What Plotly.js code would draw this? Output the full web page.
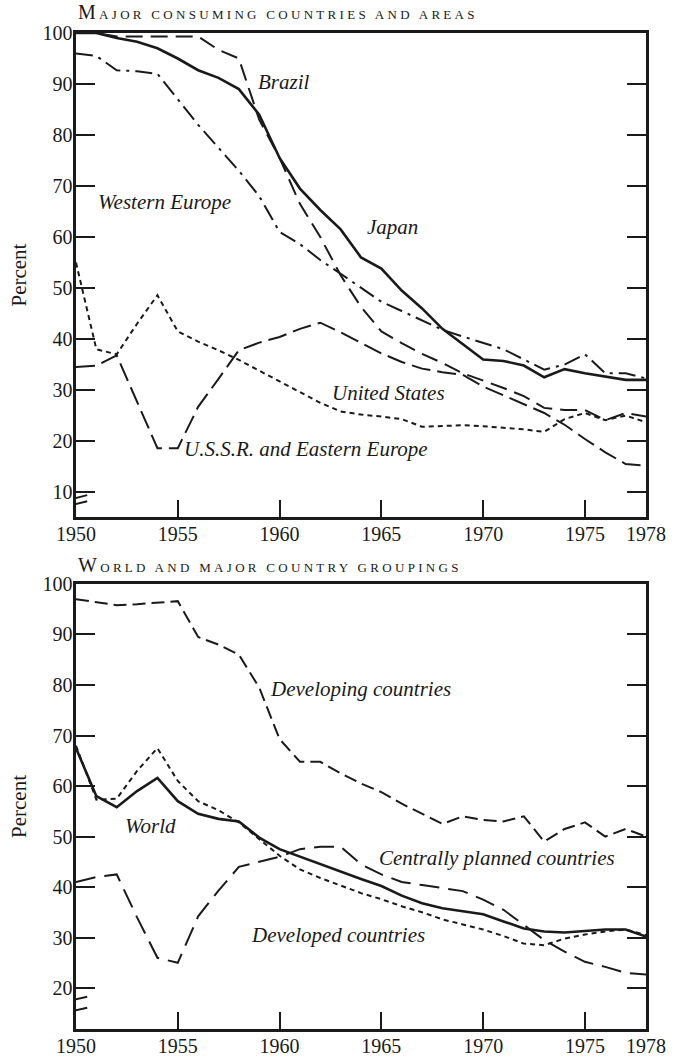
<!DOCTYPE html>
<html>
<head>
<meta charset="utf-8">
<script src="https://cdn.plot.ly/plotly-3.0.1.min.js"></script>
<style>
  html, body { margin: 0; padding: 0; background: #fff; }
  #chart { width: 676px; height: 1059px; }
  .annotation[data-index="0"] text, .annotation[data-index="1"] text { letter-spacing: 3.3px; }
</style>
</head>
<body>
<div id="chart"></div>
<script>
// ---- Data (percent) ----
const years = [1950,1951,1952,1953,1954,1955,1956,1957,1958,1959,1960,1961,1962,1963,1964,1965,1966,1967,1968,1969,1970,1971,1972,1973,1974,1975,1976,1977,1978];

// Major consuming countries and areas
const japan         = [100,100,99,98.3,97,95,92.7,91.2,89,84,75.5,69.5,65.3,61.5,56,53.8,49.5,46,42,39,36,35.7,34.8,32.5,34.1,33.3,32.7,32,32];
const brazil        = [100,100,99.3,99.3,99.3,99.3,99.3,96.7,95,83,75.5,66.5,60,52.5,46.3,41.5,39.2,37.1,35.3,33.3,31.9,30.4,28.8,26.5,26.1,26.1,24.1,25.5,24.8];
const westernEurope = [96,95.5,92.7,92.5,92,87,82,77.5,73,68,61,58.6,55.5,52.8,50,47.3,45.5,43.7,41.8,40.5,39.2,38,36,34,35,37,33.3,33.3,32.3];
const ussrEastEurope= [34.5,34.8,36.8,27.7,18.6,18.6,26.7,32.2,37.8,39.3,40.4,42,43.2,41.3,39.3,37.2,35.5,34.2,33.5,33,30.7,29,27.3,25.5,23.2,20.4,17.8,15.5,15.2];
const unitedStates  = [55,38,37,43,48.6,41.5,39.5,37.8,35.9,33.8,31.6,29.5,27.5,25.8,25.2,24.8,24.3,22.8,23,23.1,22.9,22.6,22.3,21.8,24.3,25.5,24.1,25,23.7];

// World and major country groupings
const developing       = [97,96.4,95.8,96,96.3,96.6,89.5,88,86,79.5,69.3,64.8,64.8,62.5,60.5,58.8,56.5,54.5,52.5,54,53.3,53,54,49,51.5,52.8,50,51.5,50];
const world            = [67.5,58,55.8,59,61.6,57,54.5,53.5,53,49.8,47.5,46,44.5,43,41.6,40.2,38.3,36.8,35.8,35.2,34.6,33.2,31.8,31.2,31,31.3,31.6,31.6,30.2];
const developed        = [68,57.3,57.5,63,67.5,61,57,55.2,52.8,49.5,46.2,43.5,41.8,40.3,38.8,37.6,36.2,35,33.6,32.6,31.6,30.3,28.8,28.5,29.8,30.6,31.2,31.6,30.5];
const centrallyPlanned = [41,42,42.5,34,26,25,34.2,39.3,44,45,46,47.5,48,48,44.5,42.5,41,40.4,39.8,39.2,37.5,35.5,32.5,29.5,27.2,25.2,24.2,23,22.7];

const xTickVals = [1950,1955,1960,1965,1970,1975,1978];
const xTickText = ['1950','1955','1960','1965','1970','1975','1978'];
const yTicksTop = [10,20,30,40,50,60,70,80,90,100];
const yTicksBottom = [20,30,40,50,60,70,80,90,100];

const topTitle = 'M<span style="font-size:13px">AJOR CONSUMING COUNTRIES AND AREAS</span>';
const bottomTitle = 'W<span style="font-size:13px">ORLD AND MAJOR COUNTRY GROUPINGS</span>';

// ---- Styles ----
const INK = '#1a1a1a';
const FONT = 'Liberation Serif, Times New Roman, serif';

function line(y, xa, ya, dash, width) {
  return { x: years, y: y, xaxis: xa, yaxis: ya, type: 'scatter', mode: 'lines',
           line: { color: INK, width: width, dash: dash, shape: 'linear' }, hoverinfo: 'skip' };
}

const traces = [
  line(japan, 'x', 'y', 'solid', 2.6),
  line(brazil, 'x', 'y', '17px,8px', 2),
  line(westernEurope, 'x', 'y', '17px,6px,3px,6px', 2),
  line(ussrEastEurope, 'x', 'y', '19px,7px', 2),
  line(unitedStates, 'x', 'y', '5px,4px', 2),
  line(developing, 'x2', 'y2', '13px,6px', 2),
  line(world, 'x2', 'y2', 'solid', 2.6),
  line(developed, 'x2', 'y2', '5px,4px', 2),
  line(centrallyPlanned, 'x2', 'y2', '20px,9px', 2)
];

function xaxisDef(anchor) {
  return {
    anchor: anchor, range: [1950, 1978], tickvals: xTickVals, ticktext: xTickText,
    ticks: 'inside', ticklen: 17, tickwidth: 2, tickcolor: INK,
    showline: true, linewidth: 2.6, linecolor: INK, mirror: true,
    showgrid: false, zeroline: false, ticklabelstandoff: -3,
    tickfont: { family: FONT, size: 20, color: INK }
  };
}
function yaxisDef(anchor, domain, range, tickvals) {
  return {
    anchor: anchor, domain: domain, range: range, tickvals: tickvals,
    ticks: 'inside', ticklen: 19, tickwidth: 2, tickcolor: INK,
    showline: true, linewidth: 2.6, linecolor: INK, mirror: 'ticks',
    showgrid: false, zeroline: false, ticklabelstandoff: -3,
    tickfont: { family: FONT, size: 20, color: INK },
    title: { text: 'Percent', font: { family: FONT, size: 21, color: INK }, standoff: 10 }
  };
}

function label(text, x, y, xa, ya) {
  return { text: text, x: x, y: y, xref: xa, yref: ya, xanchor: 'left', yanchor: 'middle',
           showarrow: false, font: { family: FONT, size: 21, color: INK, style: 'italic' } };
}

const annotations = [
  { text: topTitle, xref: 'paper', yref: 'paper', x: 0, y: 1.021, xanchor: 'left', yanchor: 'middle',
    align: 'left', showarrow: false, font: { family: FONT, size: 20, color: INK } },
  { text: bottomTitle, xref: 'paper', yref: 'paper', x: 0, y: 0.4655, xanchor: 'left', yanchor: 'middle',
    align: 'left', showarrow: false, font: { family: FONT, size: 20, color: INK } },
  label('Brazil', 1958.85, 90.4, 'x', 'y'),
  label('Western Europe', 1951.0, 66.9, 'x', 'y'),
  label('Japan', 1964.2, 62, 'x', 'y'),
  label('United States', 1962.5, 29.4, 'x', 'y'),
  label('U.S.S.R. and Eastern Europe', 1955.2, 18.4, 'x', 'y'),
  label('Developing countries', 1959.45, 79.3, 'x2', 'y2'),
  label('World', 1952.3, 52, 'x2', 'y2'),
  label('Centrally planned countries', 1964.8, 45.8, 'x2', 'y2'),
  label('Developed countries', 1958.5, 30.6, 'x2', 'y2')
];

// axis-break marks on the y axes
function brk(xa, ya, y0, y1) {
  return { type: 'line', xref: xa, yref: ya, x0: 1949.55, x1: 1950.55, y0: y0, y1: y1,
           line: { color: INK, width: 2 } };
}
const shapes = [
  brk('x', 'y', 8.4, 9.4), brk('x', 'y', 7.2, 8.2),
  brk('x2', 'y2', 17.4, 18.3), brk('x2', 'y2', 15.2, 16.1)
];

const layout = {
  width: 676, height: 1059,
  margin: { l: 76, r: 30, t: 33, b: 30 },
  paper_bgcolor: '#ffffff', plot_bgcolor: '#ffffff',
  showlegend: false,
  font: { family: FONT, color: INK },
  xaxis: xaxisDef('y'),
  yaxis: yaxisDef('x', [0.514, 1], [5.1, 100], yTicksTop),
  xaxis2: xaxisDef('y2'),
  yaxis2: yaxisDef('x2', [0, 0.4468], [11.9, 100], yTicksBottom),
  annotations: annotations,
  shapes: shapes
};

Plotly.newPlot('chart', traces, layout, { displayModeBar: false, staticPlot: true });
</script>
</body>
</html>
